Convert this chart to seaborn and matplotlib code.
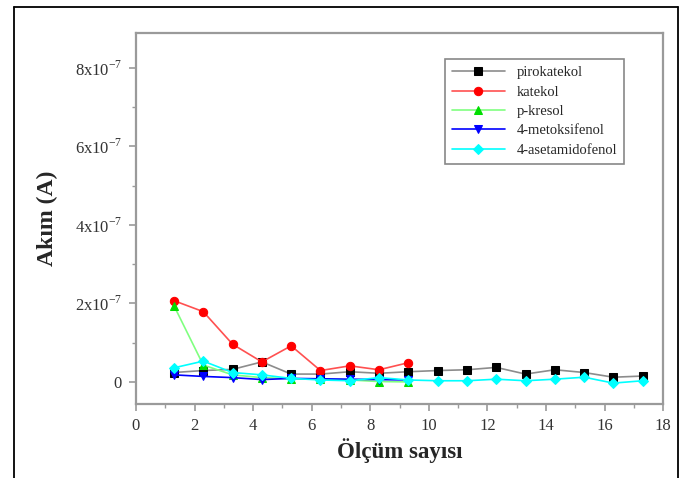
import pandas as pd
import matplotlib.pyplot as plt
import seaborn as sns
from matplotlib.lines import Line2D
from matplotlib.ticker import MultipleLocator, FuncFormatter

# ---------------------------------
# Data
# ---------------------------------

olcum = [1.3, 2.3, 3.3, 4.3, 5.3, 6.3, 7.3, 8.3, 9.3,
         10.3, 11.3, 12.3, 13.3, 14.3, 15.3, 16.3, 17.3]

pirokatekol = [0.24, 0.29, 0.32, 0.51, 0.20, 0.20, 0.26, 0.22, 0.26,
               0.29, 0.31, 0.37, 0.20, 0.31, 0.24, 0.12, 0.15]
katekol = [2.07, 1.79, 0.96, 0.51, 0.92, 0.29, 0.41, 0.31, 0.49]
p_kresol = [1.94, 0.43, 0.18, 0.11, 0.08, 0.07, 0.05, 0.01, 0.0]
metoksifenol = [0.18, 0.14, 0.11, 0.06, 0.09, 0.08, 0.07, 0.06, 0.05]
asetamidofenol = [0.36, 0.53, 0.24, 0.18, 0.09, 0.05, 0.03, 0.11, 0.05,
                  0.03, 0.03, 0.07, 0.03, 0.07, 0.12, -0.03, 0.03]

series = [
    ("pirokatekol", pirokatekol),
    ("katekol", katekol),
    ("p-kresol", p_kresol),
    ("4-metoksifenol", metoksifenol),
    ("4-asetamidofenol", asetamidofenol),
]

# line colour, marker colour, marker
styles = {
    "pirokatekol": ("#8c8c8c", "black", "s"),
    "katekol": ("#ff5050", "red", "o"),
    "p-kresol": ("#80ff80", "#00dd00", "^"),
    "4-metoksifenol": ("blue", "blue", "v"),
    "4-asetamidofenol": ("cyan", "cyan", "D"),
}

# ---------------------------------
# Plot
# ---------------------------------

sns.set_style("ticks")
plt.rcParams["font.family"] = ["Liberation Serif", "DejaVu Serif"]
plt.rcParams["mathtext.fontset"] = "custom"
plt.rcParams["mathtext.rm"] = "Liberation Serif"

fig = plt.figure(figsize=(6.83, 4.78), dpi=100)
ax = fig.add_axes([0.199, 0.155, 0.772, 0.776])

for name, vals in series:
    df = pd.DataFrame({"x": olcum[:len(vals)], "y": [v * 1e-7 for v in vals]})
    lc, mc, mk = styles[name]
    ms = 6 if mk != "D" else 5
    sns.lineplot(
        data=df, x="x", y="y", ax=ax,
        color=lc, linewidth=1.2,
        marker=mk, markersize=ms,
        markerfacecolor=mc, markeredgecolor=mc,
        label=name,
    )

ax.set_xlim(0, 18)
ax.set_ylim(-0.56e-7, 8.89e-7)
ax.xaxis.set_major_locator(MultipleLocator(2))
ax.xaxis.set_minor_locator(MultipleLocator(1))
ax.yaxis.set_major_locator(MultipleLocator(2e-7))
ax.yaxis.set_minor_locator(MultipleLocator(1e-7))


def yfmt(v, pos):
    n = int(round(v / 1e-7))
    if n == 0:
        return "0"
    return r"%dx10$^{\mathregular{-7}}$" % n


ax.yaxis.set_major_formatter(FuncFormatter(yfmt))

for sp in ax.spines.values():
    sp.set_visible(True)
    sp.set_color("#9a9a9a")
    sp.set_linewidth(1.6)

ax.tick_params(which="major", direction="out", length=5, width=1.2,
               color="#9a9a9a", labelsize=12, labelcolor="#333333", pad=5)
ax.tick_params(which="minor", direction="out", length=3, width=1.0,
               color="#9a9a9a")
ax.tick_params(top=False, right=False, which="both")

ax.set_xlabel("Ölçüm sayısı", fontsize=16.5, fontweight="bold", labelpad=3)
ax.set_ylabel("Akım (A)", fontsize=17, fontweight="bold", labelpad=12)

leg = ax.legend(loc="upper right", bbox_to_anchor=(0.94, 0.95),
                fontsize=10.5, handlelength=3.6, labelspacing=0.42,
                borderpad=0.5, fancybox=False, framealpha=1,
                edgecolor="#888888")
leg.get_frame().set_linewidth(1.2)

# outer frame of the figure
for xs, ys in [([14 / 683, 14 / 683], [0, 1 - 7 / 478]),
               ([14 / 683, 678 / 683], [1 - 7 / 478, 1 - 7 / 478]),
               ([678 / 683, 678 / 683], [1 - 7 / 478, 0])]:
    fig.add_artist(Line2D(xs, ys, color="black", linewidth=1.3))

plt.savefig("out.png", dpi=100)
